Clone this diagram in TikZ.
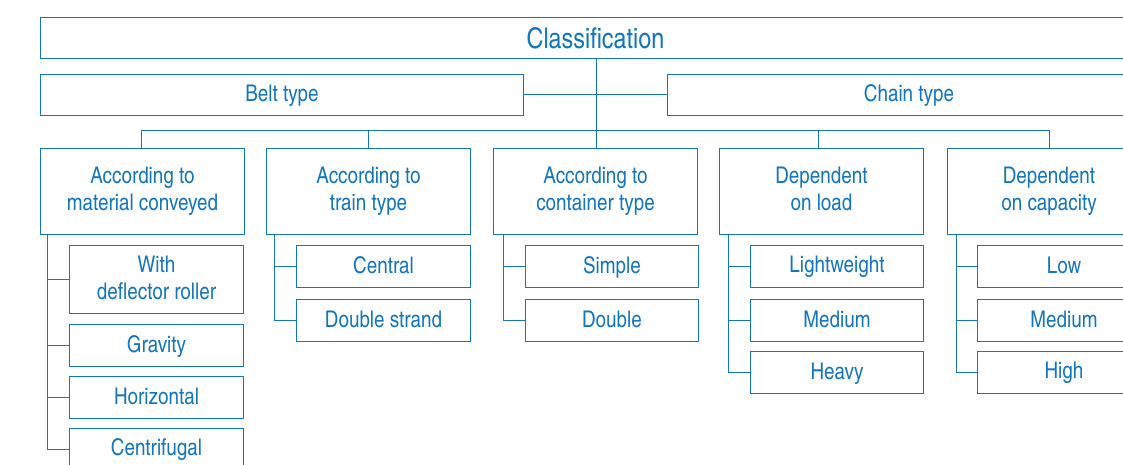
\documentclass[tikz,border=0pt]{standalone}
\usepackage{fontspec}
\setmainfont{TeX Gyre Heros Cn}
\definecolor{bl}{RGB}{20,118,190}
\newcommand{\mystrut}{\rule[-6pt]{0pt}{20.5pt}}
\newcommand{\onestrut}{\rule[-5pt]{0pt}{23pt}}
\tikzset{
  x=1pt, y=-1pt,
  box/.style={draw=bl, line width=1pt, rectangle, inner sep=0pt, align=center,
    text=bl, anchor=north west, font=\fontsize{23}{27}\selectfont},
  lvl/.style={box, minimum width=204pt, minimum height=86pt},
  item/.style={box, minimum width=174pt, minimum height=42pt},
  conn/.style={draw=bl, line width=1pt}
}
\begin{document}
\begin{tikzpicture}
\useasboundingbox (0,0) rectangle (1123,465);
\clip (0,0) rectangle (1123,465);
% top levels
\node[box, minimum width=1110pt, minimum height=41pt, font=\fontsize{28.5}{30}\selectfont] (cls) at (40,17) {Classification};
\node[box, minimum width=483pt, minimum height=41pt] (belt) at (40,74) {\onestrut Belt type};
\node[box, minimum width=483pt, minimum height=41pt] (chain) at (667,74) {\onestrut Chain type};
% level 2
\node[lvl] (b1) at (40,148) {\mystrut According to\\\mystrut material conveyed};
\node[lvl] (b2) at (266,148) {\mystrut According to\\\mystrut train type};
\node[lvl] (b3) at (493,148) {\mystrut According to\\\mystrut container type};
\node[lvl] (b4) at (719,148) {\mystrut Dependent\\\mystrut on load};
\node[lvl] (b5) at (946.5,148) {\mystrut Dependent\\\mystrut on capacity};
% items b1
\node[item, minimum height=68pt] (b1c1) at (69,245) {\onestrut With\\\onestrut deflector roller};
\node[item] (b1c2) at (69,324) {\onestrut Gravity};
\node[item] (b1c3) at (69,376) {\onestrut Horizontal};
\node[item] (b1c4) at (69,428) {\onestrut Centrifugal};
% items b2
\node[item] (b2c1) at (296,245) {\onestrut Central};
\node[item] (b2c2) at (296,299) {\onestrut Double strand};
% items b3
\node[item, minimum width=173pt] (b3c1) at (525,245) {\onestrut Simple};
\node[item, minimum width=173pt] (b3c2) at (525,299) {\onestrut Double};
% items b4
\node[item, minimum width=173pt] (b4c1) at (750,245) {\onestrut Lightweight};
\node[item, minimum width=173pt] (b4c2) at (750,299) {\onestrut Medium};
\node[item, minimum width=173pt] (b4c3) at (750,351) {\onestrut Heavy};
% items b5
\node[item, minimum width=173pt] (b5c1) at (977,245) {\onestrut Low};
\node[item, minimum width=173pt] (b5c2) at (977,299) {\onestrut Medium};
\node[item, minimum width=173pt] (b5c3) at (977,351) {\onestrut High};
% connectors top
\draw[conn] (belt.east) -- (chain.west);
\draw[conn] ([xshift=1pt]b3.north |- cls.south) -- ([xshift=1pt]b3.north);
\coordinate (bus) at (0,131);
\draw[conn] ([xshift=-1pt]b1.north) -- ([xshift=-1pt]b1.north |- bus) -- (b5.north |- bus) -- (b5.north);
\draw[conn] (b2.north) -- (b2.north |- bus);
\draw[conn] ([xshift=-3pt]b4.north) -- ([xshift=-3pt]b4.north |- bus);
% trunks
\coordinate (t1) at ([xshift=7pt]b1.south west);
\coordinate (t2) at ([xshift=8pt]b2.south west);
\coordinate (t3) at ([xshift=10pt]b3.south west);
\coordinate (t4) at ([xshift=9pt]b4.south west);
\coordinate (t5) at ([xshift=9.5pt]b5.south west);
\draw[conn] (t1) |- (b1c4.west);
\foreach \c in {b1c1,b1c2,b1c3} \draw[conn] (t1 |- \c.west) -- (\c.west);
\draw[conn] (t2) |- (b2c2.west);
\draw[conn] (t2 |- b2c1.west) -- (b2c1.west);
\draw[conn] (t3) |- (b3c2.west);
\draw[conn] (t3 |- b3c1.west) -- (b3c1.west);
\draw[conn] (t4) |- (b4c3.west);
\foreach \c in {b4c1,b4c2} \draw[conn] (t4 |- \c.west) -- (\c.west);
\draw[conn] (t5) |- (b5c3.west);
\foreach \c in {b5c1,b5c2} \draw[conn] (t5 |- \c.west) -- (\c.west);
\end{tikzpicture}
\end{document}
